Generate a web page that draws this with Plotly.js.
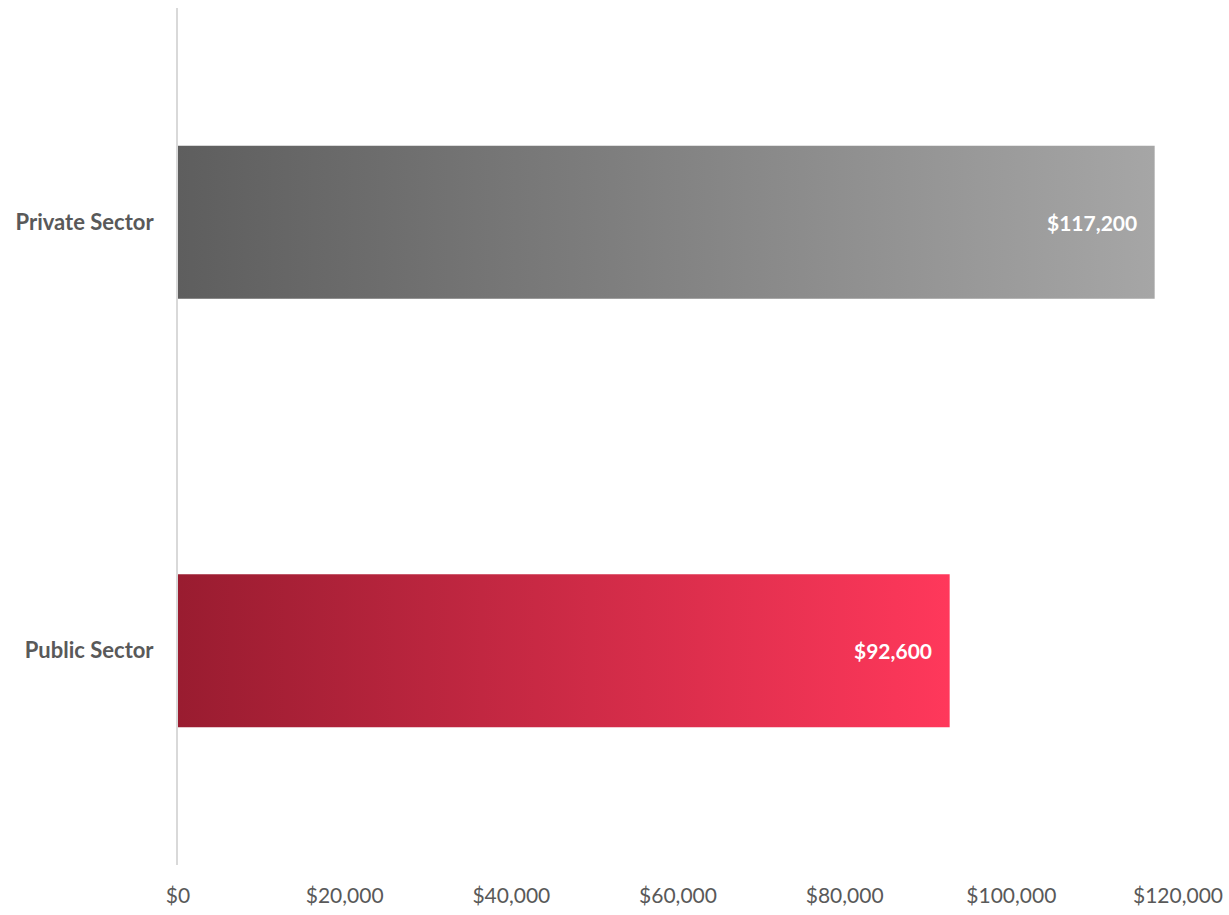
<!DOCTYPE html>
<html>
<head>
<meta charset="utf-8">
<script src="https://cdn.plot.ly/plotly-3.0.1.min.js"></script>
<style>
html,body{margin:0;padding:0;background:#fff;}
#chart{width:1229px;height:915px;}
</style>
</head>
<body>
<div id="chart"></div>
<script>
const categories = ["Private Sector", "Public Sector"];
const salaries = [117200, 92600];
const labels = ["$117,200", "$92,600"];
const tickVals = [0, 20000, 40000, 60000, 80000, 100000, 120000];
const tickText = ["$0", "$20,000", "$40,000", "$60,000", "$80,000", "$100,000", "$120,000"];
const gradients = [["#5e5e5e", "#a6a6a6"], ["#991c30", "#ff385b"]];

const FONT = "Lato, 'Open Sans', sans-serif";

const trace = {
  type: "bar",
  orientation: "h",
  y: categories,
  x: salaries,
  marker: { color: gradients.map(g => g[1]) },
  hoverinfo: "none",
  textposition: "none"
};

const annotations = categories.map((c, i) => ({
  x: salaries[i], y: c, xref: "x", yref: "y",
  text: "<b>" + labels[i] + "</b>",
  showarrow: false, xanchor: "right", xshift: -16,
  font: { family: FONT, size: 21, color: "#ffffff" }
}));

const layout = {
  width: 1229, height: 915,
  margin: { l: 178, r: 51, t: 8, b: 50 },
  paper_bgcolor: "#ffffff", plot_bgcolor: "#ffffff",
  showlegend: false,
  bargap: 0.643,
  xaxis: {
    range: [0, 120000], tickvals: tickVals, ticktext: tickText,
    showgrid: false, zeroline: false, showline: false,
    ticks: "", ticklabelstandoff: 16,
    tickfont: { family: FONT, size: 21, color: "#595959" },
    fixedrange: true
  },
  yaxis: {
    autorange: "reversed", showgrid: false, zeroline: false,
    showline: true, linecolor: "#d9d9d9", linewidth: 2,
    ticks: "", ticklabelstandoff: 18,
    tickfont: { family: FONT, size: 22, color: "#595959", weight: "bold" },
    fixedrange: true
  },
  annotations: annotations
};

Plotly.newPlot("chart", [trace], layout, { displayModeBar: false, staticPlot: true }).then(gd => {
  const svg = gd.querySelector("svg.main-svg");
  const ns = "http://www.w3.org/2000/svg";
  let defs = svg.querySelector("defs");
  if (!defs) { defs = document.createElementNS(ns, "defs"); svg.insertBefore(defs, svg.firstChild); }
  gradients.forEach((g, i) => {
    const lg = document.createElementNS(ns, "linearGradient");
    lg.setAttribute("id", "barGrad" + i);
    lg.setAttribute("x1", "0"); lg.setAttribute("y1", "0");
    lg.setAttribute("x2", "1"); lg.setAttribute("y2", "0");
    [[0, g[0]], [1, g[1]]].forEach(s => {
      const st = document.createElementNS(ns, "stop");
      st.setAttribute("offset", s[0]);
      st.setAttribute("stop-color", s[1]);
      lg.appendChild(st);
    });
    defs.appendChild(lg);
  });
  const paths = gd.querySelectorAll(".bars .point path");
  paths.forEach((p, i) => { p.style.fill = "url(#barGrad" + i + ")"; });
});
</script>
</body>
</html>
